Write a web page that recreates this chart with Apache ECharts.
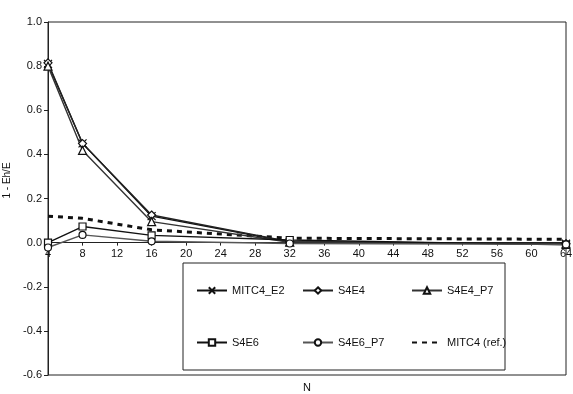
<!DOCTYPE html>
<html>
<head>
<meta charset="utf-8">
<script src="https://cdn.jsdelivr.net/npm/echarts@6/dist/echarts.min.js"></script>
<style>
  html, body { margin: 0; padding: 0; background: #fff; }
  #chart { width: 573px; height: 394px; }
</style>
</head>
<body>
<div id="chart"></div>
<script>
// N values
var nValues = [4, 8, 16, 32, 64];

// 1 - Eh/E for each element
var mitc4E2 = [0.81, 0.45, 0.12, 0.003, -0.005];
var s4e4 = [0.815, 0.449, 0.125, 0.004, -0.005];
var s4e4P7 = [0.80, 0.418, 0.095, 0.002, -0.007];
var s4e6 = [0.0, 0.073, 0.033, 0.012, -0.01];
var s4e6P7 = [-0.022, 0.035, 0.006, -0.004, -0.008];
var mitc4Ref = [0.12, 0.11, 0.058, 0.02, 0.015];

var yTicks = { min: -0.6, max: 1.0, interval: 0.2 };

function pairs(ys) {
    return nValues.map(function (n, i) { return [n, ys[i]]; });
}

var myChart = echarts.init(document.getElementById('chart'));

var font = 'Liberation Sans, Arial, sans-serif';
var crossPath = 'path://M0,0L10,10M10,0L0,10';

var gridTop = 22, gridBottom = 19, chartH = 394;
var plotH = chartH - gridTop - gridBottom;
// lift the x axis from the bottom edge up to y = 0
var zeroOffset = -plotH * (0 - yTicks.min) / (yTicks.max - yTicks.min);

function solidSeries(name, ys, symbol, size, lineColor) {
    return {
        name: name,
        type: 'line',
        data: pairs(ys),
        symbol: symbol,
        symbolSize: size,
        lineStyle: { color: lineColor, width: 1.4 },
        itemStyle: { color: '#fff', borderColor: '#111', borderWidth: 1.2 },
        z: 3
    };
}

// legend item positions (box drawn separately)
var legendSlots = [
    { name: 'MITC4_E2', left: 196, top: 285 },
    { name: 'S4E4', left: 302, top: 285 },
    { name: 'S4E4_P7', left: 411, top: 285 },
    { name: 'S4E6', left: 196, top: 337 },
    { name: 'S4E6_P7', left: 302, top: 337 },
    { name: 'MITC4 (ref.)', left: 411, top: 337 }
];

var option = {
    backgroundColor: '#fff',
    animation: false,
    textStyle: { fontFamily: font },
    grid: {
        left: 48, top: gridTop, right: 7, bottom: gridBottom,
        containLabel: false,
        outerBoundsMode: 'none',
        show: true, borderColor: '#222', borderWidth: 1
    },
    graphic: [{
        type: 'rect',
        shape: { x: 183, y: 263, width: 322, height: 107 },
        style: { fill: '#fff', stroke: '#222', lineWidth: 1 },
        z: 5
    }],
    legend: legendSlots.map(function (s) {
        var lg = {
            data: [s.name],
            left: s.left, top: s.top,
            itemWidth: 30, itemHeight: 8, itemGap: 0,
            padding: 0,
            textStyle: { fontFamily: font, fontSize: 11, color: '#111' },
            z: 10
        };
        if (s.name === 'MITC4 (ref.)') {
            lg.itemStyle = { color: 'rgba(0,0,0,0)', borderWidth: 0, opacity: 0 };
        }
        return lg;
    }),
    xAxis: {
        type: 'value',
        min: 4, max: 64, interval: 4,
        position: 'bottom',
        offset: zeroOffset,
        name: 'N',
        nameLocation: 'middle',
        nameGap: 140,
        nameTextStyle: { fontFamily: font, fontSize: 11, color: '#111' },
        axisLine: { onZero: false, lineStyle: { color: '#222', width: 1 } },
        axisTick: { show: true, length: 3, lineStyle: { color: '#222' } },
        axisLabel: { color: '#111', fontSize: 11, margin: 6, fontFamily: font },
        splitLine: { show: false }
    },
    yAxis: {
        type: 'value',
        min: yTicks.min, max: yTicks.max, interval: yTicks.interval,
        name: '1 - Eh/E',
        nameLocation: 'middle',
        nameGap: 36,
        nameTextStyle: { fontFamily: font, fontSize: 10, color: '#111', padding: [0, 0, 0, 36] },
        axisLine: { show: true, onZero: false, lineStyle: { color: '#222', width: 1 } },
        axisTick: { show: true, length: 4, inside: false, lineStyle: { color: '#222' } },
        axisLabel: {
            color: '#111', fontSize: 11, margin: 6, fontFamily: font,
            formatter: function (v) { return v.toFixed(1); }
        },
        splitLine: { show: false }
    },
    series: [
        solidSeries('MITC4_E2', mitc4E2, crossPath, 8, '#111'),
        solidSeries('S4E4', s4e4, 'diamond', 8, '#222'),
        solidSeries('S4E4_P7', s4e4P7, 'triangle', 8, '#333'),
        solidSeries('S4E6', s4e6, 'rect', 7, '#111'),
        solidSeries('S4E6_P7', s4e6P7, 'circle', 7, '#555'),
        {
            name: 'MITC4 (ref.)',
            type: 'line',
            data: pairs(mitc4Ref),
            symbol: 'none',
            lineStyle: { color: '#111', width: 3, type: [5, 5] },
            itemStyle: { color: '#111' },
            z: 2
        }
    ]
};

myChart.setOption(option);

window.addEventListener('resize', function () {
    myChart.resize();
});
</script>
</body>
</html>
